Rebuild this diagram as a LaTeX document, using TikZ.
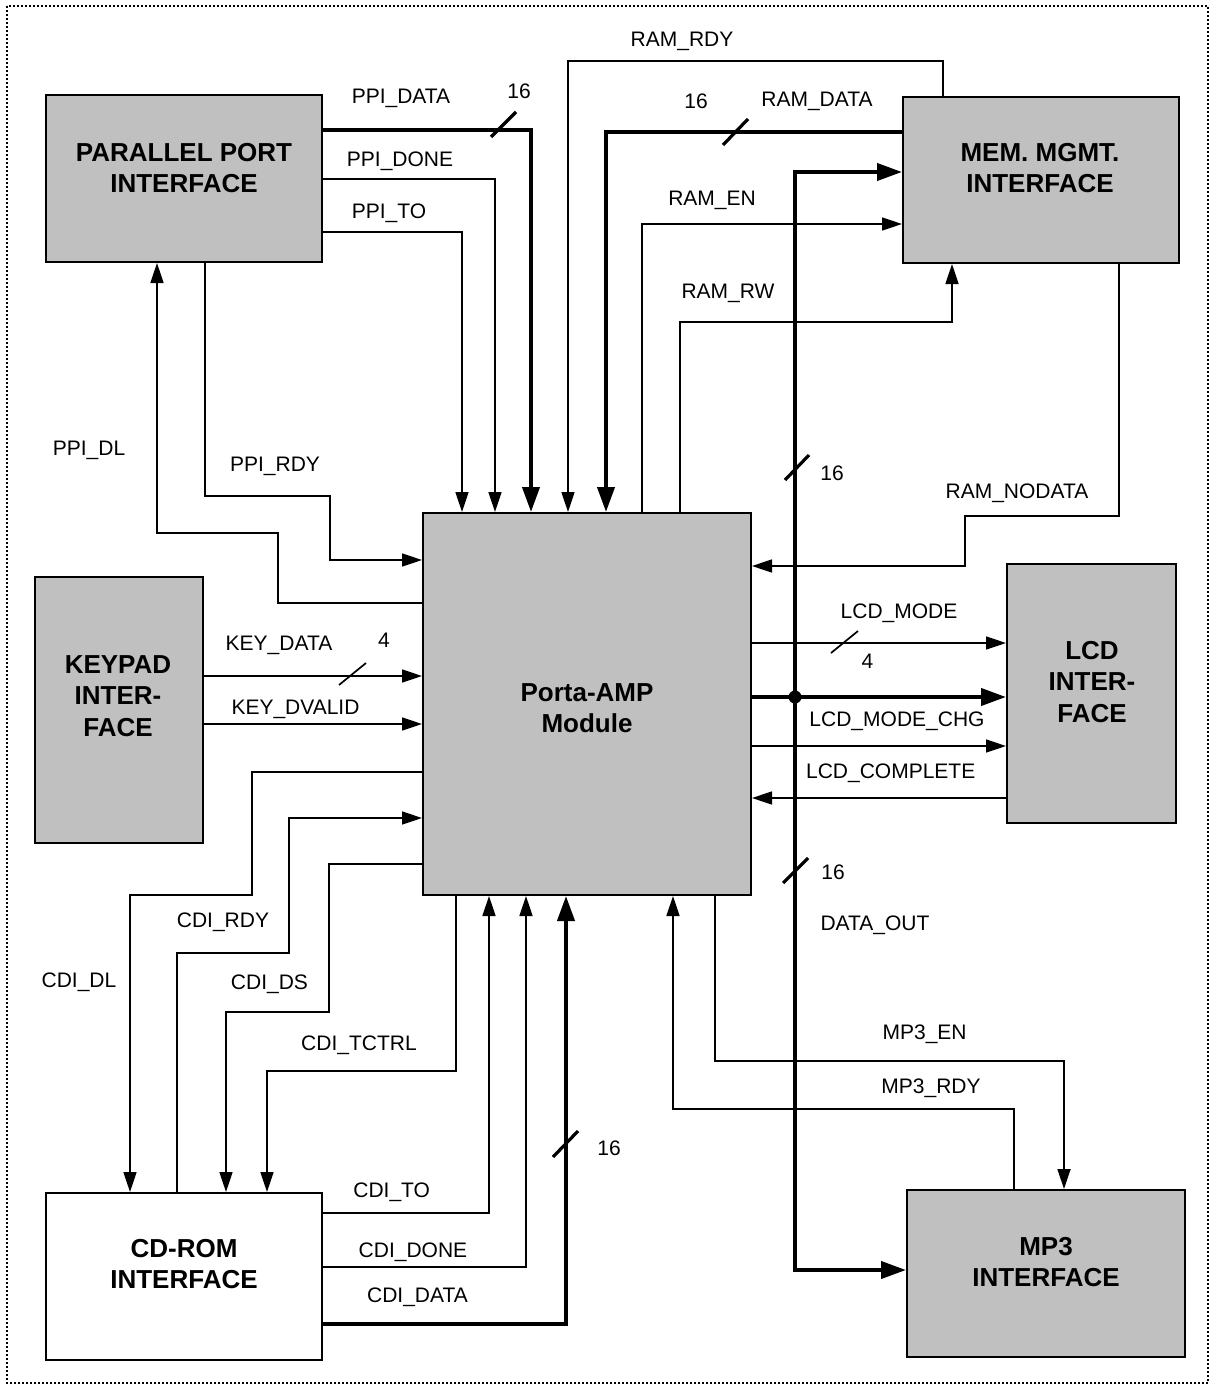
\documentclass[tikz,border=0pt]{standalone}
\usepackage{fontspec}
\setmainfont{Liberation Sans}
\usetikzlibrary{arrows.meta}
\definecolor{boxgray}{RGB}{192,192,192}
\begin{document}
\begin{tikzpicture}[x=1pt,y=-1pt,
  box/.style={draw,line width=2pt,fill=boxgray,inner sep=0pt},
  title/.style={font=\fontsize{26}{31.5}\selectfont\bfseries,align=center,inner sep=0pt},
  lbl/.style={font=\fontsize{21}{25}\selectfont,anchor=base,inner sep=0pt},
  thn/.style={line width=1.7pt,-{Triangle[length=20pt,width=13pt]}},
  thk/.style={line width=4pt,-{Triangle[length=25pt,width=17pt]}},
  slthk/.style={line width=3.2pt},
  slthn/.style={line width=1.7pt},
  border/.style={line width=1.6pt,dash pattern=on 2pt off 2pt}]
\useasboundingbox (0,0) rectangle (1212,1388);
\draw[border] (7,6) rectangle (1208,1383);

% boxes
\node[box,minimum width=276pt,minimum height=167pt] (ppi) at (184,178.5) {};
\node[box,minimum width=276pt,minimum height=166pt] (mem) at (1041,180) {};
\node[box,minimum width=168pt,minimum height=266pt] (key) at (119,710) {};
\node[box,minimum width=328pt,minimum height=382pt] (porta) at (587,704) {};
\node[box,minimum width=169pt,minimum height=259pt] (lcd) at (1091.5,693.5) {};
\node[box,fill=white,minimum width=276pt,minimum height=167pt] (cd) at (184,1276.5) {};
\node[box,minimum width=278pt,minimum height=167pt] (mp3) at (1046,1273.5) {};

\node[title] (ppit) at (184,168) {PARALLEL PORT\\INTERFACE};
\node[title] (memt) at (1040,168) {MEM. MGMT.\\INTERFACE};
\node[title] (keyt) at (118,696) {KEYPAD\\INTER-\\FACE};
\node[title] (portat) at (587,708) {Porta-AMP\\Module};
\node[title] (lcdt) at (1092,682) {LCD\\INTER-\\FACE};
\node[title] (cdt) at (184,1264) {CD-ROM\\INTERFACE};
\node[title] (mp3t) at (1046,1262) {MP3\\INTERFACE};

% parallel port connectors
\draw[thk] (ppi.east |- 0,130) -| (531,0 |- porta.north);
\draw[thn] (ppi.east |- 0,179) -| (495,0 |- porta.north);
\draw[thn] (ppi.east |- 0,232) -| (462,0 |- porta.north);
\draw[thn] (205,0 |- ppi.south) -- (205,496) -| (330,560) -- (porta.west |- 0,560);
\draw[thn] (porta.west |- 0,603) -| (278,533) -| (157,0 |- ppi.south);

% memory connectors
\draw[thn] (943,0 |- mem.north) -- (943,61) -| (568,0 |- porta.north);
\draw[thk] (mem.west |- 0,132) -| (606,0 |- porta.north);
\draw[thn] (642,0 |- porta.north) |- (mem.west |- 0,224);
\draw[thn] (680,0 |- porta.north) |- (952,322) -- (952,0 |- mem.south);
\draw[thn] (1119,0 |- mem.south) |- (965,516) |- (porta.east |- 0,566);

% data bus
\coordinate (j) at (795,697);
\draw[thk] (porta.east |- j) -- (lcd.west |- j);
\draw[thk] (j) -- (795,172) -- (mem.west |- 0,172);
\draw[thk] (j) -- (795,1270) -- (mp3.west |- 0,1270);
\fill (j) circle[radius=6.5pt];

% LCD connectors
\draw[thn] (porta.east |- 0,643) -- (lcd.west |- 0,643);
\draw[thn] (porta.east |- 0,746) -- (lcd.west |- 0,746);
\draw[thn] (lcd.west |- 0,798) -- (porta.east |- 0,798);

% keypad connectors
\draw[thn] (key.east |- 0,676) -- (porta.west |- 0,676);
\draw[thn] (key.east |- 0,724) -- (porta.west |- 0,724);

% CD-ROM connectors
\draw[thn] (porta.west |- 0,772) -| (252,895) -| (130,0 |- cd.north);
\draw[thn] (177,0 |- cd.north) |- (289,953) |- (porta.west |- 0,818);
\draw[thn] (porta.west |- 0,864) -| (329,1012) -| (226,0 |- cd.north);
\draw[thn] (456,0 |- porta.south) |- (267,1071) -- (267,0 |- cd.north);
\draw[thn] (cd.east |- 0,1213) -| (489,0 |- porta.south);
\draw[thn] (cd.east |- 0,1267) -| (526,0 |- porta.south);
\draw[thk] (cd.east |- 0,1324) -| (566,0 |- porta.south);

% MP3 connectors
\draw[thn] (715,0 |- porta.south) |- (1064,1061) -- (1064,0 |- mp3.north);
\draw[thn] (1014,0 |- mp3.north) |- (673,1109) -- (673,0 |- porta.south);

% bus-width slashes
\draw[slthk] (491,137) -- (516,112);
\draw[slthk] (723,145) -- (748,119);
\draw[slthn] (339,685) -- (366,663);
\draw[slthn] (831,653) -- (858,631);
\draw[slthk] (785,480) -- (809,455);
\draw[slthk] (783,883) -- (808,858);
\draw[slthk] (553,1157) -- (578,1131);

% labels
\node[lbl] (l1) at (401,104) {PPI\_DATA};
\node[lbl] (l2) at (400,166.5) {PPI\_DONE};
\node[lbl] (l3) at (389,218.3) {PPI\_TO};
\node[lbl] (l4) at (519,99) {16};
\node[lbl] (l5) at (682,47) {RAM\_RDY};
\node[lbl] (l6) at (817,106.7) {RAM\_DATA};
\node[lbl] (l7) at (696,109) {16};
\node[lbl] (l8) at (712,205.7) {RAM\_EN};
\node[lbl] (l9) at (728,298) {RAM\_RW};
\node[lbl] (l10) at (89,455) {PPI\_DL};
\node[lbl] (l11) at (275,471.7) {PPI\_RDY};
\node[lbl] (l12) at (279,650) {KEY\_DATA};
\node[lbl] (l13) at (384,647) {4};
\node[lbl] (l14) at (295.5,714) {KEY\_DVALID};
\node[lbl] (l15) at (832,480) {16};
\node[lbl] (l16) at (1017,498) {RAM\_NODATA};
\node[lbl] (l17) at (899,618) {LCD\_MODE};
\node[lbl] (l18) at (867.5,668) {4};
\node[lbl] (l19) at (897,726) {LCD\_MODE\_CHG};
\node[lbl] (l20) at (890.7,778) {LCD\_COMPLETE};
\node[lbl] (l21) at (833,879) {16};
\node[lbl] (l22) at (875,930.5) {DATA\_OUT};
\node[lbl] (l23) at (924.6,1039) {MP3\_EN};
\node[lbl] (l24) at (931,1093) {MP3\_RDY};
\node[lbl] (l25) at (223,927) {CDI\_RDY};
\node[lbl] (l26) at (79,987) {CDI\_DL};
\node[lbl] (l27) at (269.5,989) {CDI\_DS};
\node[lbl] (l28) at (359,1050) {CDI\_TCTRL};
\node[lbl] (l29) at (609,1155) {16};
\node[lbl] (l30) at (391.7,1197) {CDI\_TO};
\node[lbl] (l31) at (413,1257) {CDI\_DONE};
\node[lbl] (l32) at (417.5,1302) {CDI\_DATA};
\end{tikzpicture}
\end{document}
